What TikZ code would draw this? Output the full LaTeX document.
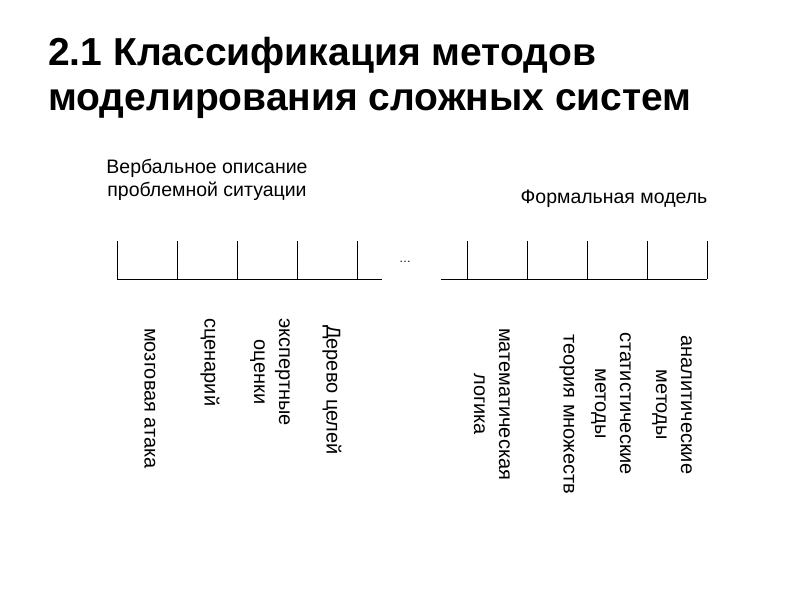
\documentclass[tikz,border=0pt]{standalone}
\usepackage{fontspec}
\setmainfont{Liberation Sans}
\usetikzlibrary{positioning}
\tikzset{
  titletext/.style={anchor=west,align=left,font=\fontsize{39}{45}\selectfont\bfseries,inner sep=0pt},
  headtext/.style={align=center,font=\fontsize{19.5}{23}\selectfont,inner sep=0pt},
  methodtext/.style={rotate=-90,anchor=west,align=center,font=\fontsize{20}{25}\selectfont,inner sep=0pt},
  scaleline/.style={line width=0.8pt},
}
\begin{document}
\begin{tikzpicture}[x=1pt,y=-1pt]
\useasboundingbox[fill=white] (0,0) rectangle (800,600);
\node[titletext] (title) at (48,78) {2.1 Классификация методов\\моделирования сложных систем};
\node[headtext] (verbal) at (207,180) {Вербальное описание\\проблемной ситуации};
\node[headtext] (formal) at (614,199) {Формальная модель};
% scale of methods
\draw[scaleline] (117,279) -- (382,279);
\draw[scaleline] (441,279) -- (707,279);
\foreach \x in {117,177,237,297,357,467,527,587,647,707}
  \draw[scaleline] (\x,241) -- (\x,279);
\node[font=\fontsize{12}{14}\selectfont] (dots) at (405,262) {\dots};
% methods
\node[methodtext] (brain) at (150,328) {мозговая атака};
\node[methodtext] (scen) at (210,318) {сценарий};
\node[methodtext] (expert) at (270,318) {экспертные\\оценки};
\node[methodtext] (tree) at (332,325) {Дерево целей};
\node[methodtext] (logic) at (492,328) {математическая\\логика};
\node[methodtext] (sets) at (567,334) {теория множеств};
\node[methodtext] (stat) at (611,332) {статистические\\методы};
\node[methodtext] (anal) at (672,335) {аналитические\\методы};
\end{tikzpicture}
\end{document}
